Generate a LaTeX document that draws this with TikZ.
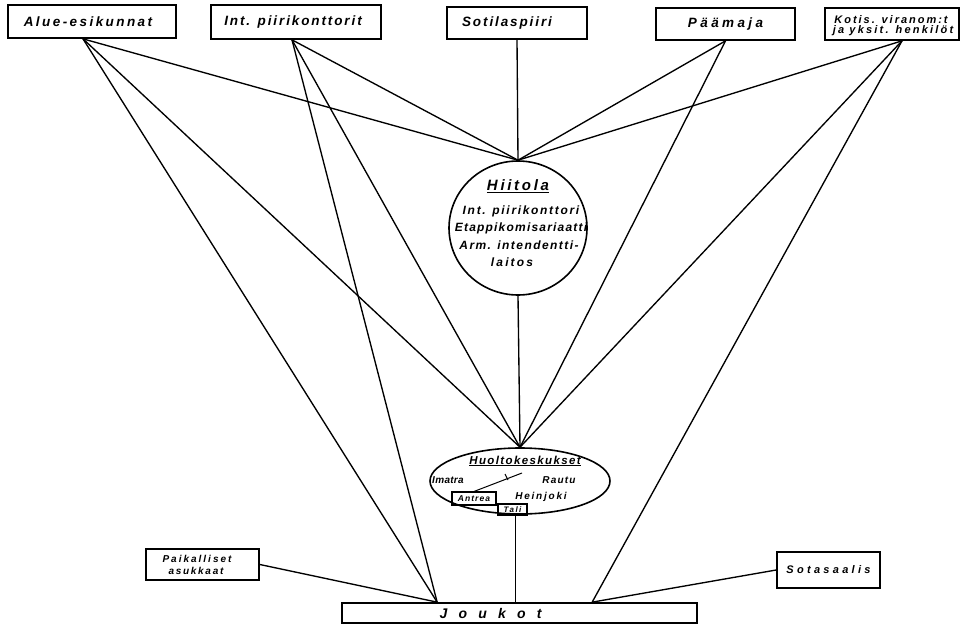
\documentclass[tikz,border=0pt]{standalone}
\usepackage{fontspec}
\setmainfont{Liberation Sans}
\usetikzlibrary{shapes.geometric,calc}
\newcommand\hw[3]{\fontsize{#1}{#2}\selectfont\bfseries\itshape\addfontfeatures{LetterSpace=#3}}
\begin{document}
\begin{tikzpicture}[x=1pt,y=-1pt,
  box/.style={draw, line width=1.7pt, rectangle, inner sep=0pt},
  oval/.style={draw, line width=1.6pt, ellipse, inner sep=0pt},
  sbox/.style={draw, line width=1.1pt, rectangle, inner sep=0pt},
  conn/.style={line width=1.35pt},
  lbl/.style={inner sep=0pt}]
\useasboundingbox[fill=white] (0,0) rectangle (968,626);

% top boxes
\node[box, minimum width=168pt, minimum height=33pt] (alue) at (92,21.5) {\hw{13.5}{16}{18}\hspace*{-8pt}Alue-esikunnat};
\node[box, minimum width=170pt, minimum height=34pt] (int) at (296,22) {\hw{13.5}{16}{14}\hspace*{-6pt}Int. piirikonttorit};
\node[box, minimum width=140pt, minimum height=32pt] (soti) at (517,23) {\hw{13.5}{16}{14}\hspace*{-20pt}Sotilaspiiri};
\node[box, minimum width=139pt, minimum height=32pt] (paa) at (725.5,24) {\hw{13.5}{16}{25}Päämaja};
\node[box, minimum width=134pt, minimum height=32pt] (katis) at (892,24) {};
\node[lbl] (katis1) at (891,19.5) {\hw{11}{12}{18}Kotis. viranom:t};
\node[lbl] (katis2) at (893,31) {\hw{11}{12}{20}ja yksit. henkilöt};

% Hiitola
\node[oval, minimum width=138pt, minimum height=134pt] (hiitola) at (518,228) {};
\node[lbl] (hiit1) at (518,186) {\hw{15}{17}{18}\underline{Hiitola}};
\node[lbl] (hiit2) at (521,211) {\hw{12}{14}{14}Int. piirikonttori};
\node[lbl] (hiit3) at (521,228) {\hw{12}{14}{10}Etappikomisariaatti};
\node[lbl] (hiit4) at (519,245) {\hw{12}{14}{12}Arm. intendentti-};
\node[lbl] (hiit5) at (512,262) {\hw{12}{14}{18}laitos};

% Huoltokeskukset
\node[oval, minimum width=180pt, minimum height=66pt] (huolto) at (520,481) {};
\node[lbl] (huoltot) at (525,461) {\hw{11.5}{13}{12}\underline{Huoltokeskukset}};
\node[lbl] (imatra) at (448,480) {\hw{10}{12}{3}Imatra};
\node[lbl] (rautu) at (559,480) {\hw{10}{12}{12}Rautu};
\node[lbl] (heinjoki) at (541,497) {\hw{10}{12}{18}Heinjoki};
\node[sbox, minimum width=44pt, minimum height=13pt] (antrea) at (474,498.5) {\hw{8.5}{10}{12}Antrea};
\node[sbox, minimum width=29pt, minimum height=11pt] (tali) at (512.5,509.5) {\hw{8}{9}{18}Tali};
\coordinate (hk) at (522,473);
\draw[line width=1pt] (antrea.north) -- (hk);
\draw[line width=1pt] (505,474) -- (508,480);

% bottom
\node[box, minimum width=355pt, minimum height=20pt] (joukot) at (519.5,613) {\hw{14}{16}{80}\hspace*{-58pt}Joukot};
\node[box, minimum width=113pt, minimum height=31pt] (poik) at (202.5,564.5) {};
\node[lbl] (poik1) at (197,559) {\hw{10}{11}{20}Paikalliset};
\node[lbl] (poik2) at (196,571) {\hw{10}{11}{17}asukkaat};
\node[box, minimum width=103pt, minimum height=36pt] (sota) at (828.5,570) {\hw{11}{13}{30}Sotasaalis};

\coordinate (jL) at ($(joukot.north west)+(96,0)$);
\coordinate (jR) at ($(joukot.north west)+(251,0)$);

% connectors
\draw[conn] ([xshift=-9pt]alue.south) -- (hiitola.north);
\draw[conn] ([xshift=-9pt]alue.south) -- (huolto.north);
\draw[conn] ([xshift=-9pt]alue.south) -- (jL);
\draw[conn] ([xshift=-4pt]int.south) -- (hiitola.north);
\draw[conn] ([xshift=-4pt]int.south) -- (huolto.north);
\draw[conn] ([xshift=-4pt]int.south) -- (jL);
\draw[conn] (soti.south) -- (hiitola.north);
\draw[conn] (paa.south) -- (hiitola.north);
\draw[conn] (paa.south) -- (huolto.north);
\draw[conn] ([xshift=10pt]katis.south) -- (hiitola.north);
\draw[conn] ([xshift=10pt]katis.south) -- (huolto.north);
\draw[conn] ([xshift=10pt]katis.south) -- (jR);
\draw[conn] (hiitola.south) -- (huolto.north);
\draw[conn] ([xshift=3pt]tali.south) -- ([xshift=3pt]tali.south |- joukot.north);
\draw[conn] (poik.east) -- (jL);
\draw[conn] (sota.west) -- (jR);
\end{tikzpicture}
\end{document}
